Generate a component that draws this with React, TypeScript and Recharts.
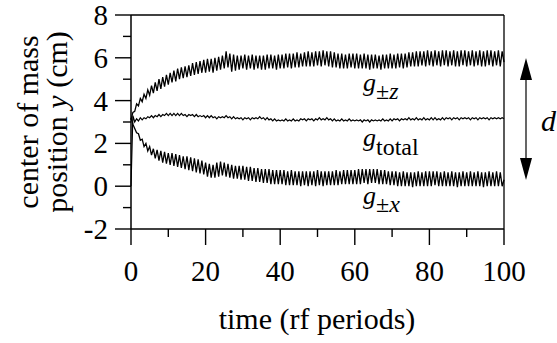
import React from 'react';
import { LineChart, Line, XAxis, YAxis, ReferenceLine } from 'recharts';

const FONT = "'Liberation Serif', 'Times New Roman', serif";

// time samples (rf periods)
const time = [
  0, 0.5, 1, 1.5, 2, 2.5, 3, 3.5, 4, 4.5, 5, 5.5, 6, 6.5, 7, 7.5, 8, 8.5, 9, 9.5,
  10, 10.5, 11, 11.5, 12, 12.5, 13, 13.5, 14, 14.5, 15, 15.5, 16, 16.5, 17, 17.5, 18, 18.5, 19, 19.5,
  20, 20.5, 21, 21.5, 22, 22.5, 23, 23.5, 24, 24.5, 25, 25.5, 26, 26.5, 27, 27.5, 28, 28.5, 29, 29.5,
  30, 30.5, 31, 31.5, 32, 32.5, 33, 33.5, 34, 34.5, 35, 35.5, 36, 36.5, 37, 37.5, 38, 38.5, 39, 39.5,
  40, 40.5, 41, 41.5, 42, 42.5, 43, 43.5, 44, 44.5, 45, 45.5, 46, 46.5, 47, 47.5, 48, 48.5, 49, 49.5,
  50, 50.5, 51, 51.5, 52, 52.5, 53, 53.5, 54, 54.5, 55, 55.5, 56, 56.5, 57, 57.5, 58, 58.5, 59, 59.5,
  60, 60.5, 61, 61.5, 62, 62.5, 63, 63.5, 64, 64.5, 65, 65.5, 66, 66.5, 67, 67.5, 68, 68.5, 69, 69.5,
  70, 70.5, 71, 71.5, 72, 72.5, 73, 73.5, 74, 74.5, 75, 75.5, 76, 76.5, 77, 77.5, 78, 78.5, 79, 79.5,
  80, 80.5, 81, 81.5, 82, 82.5, 83, 83.5, 84, 84.5, 85, 85.5, 86, 86.5, 87, 87.5, 88, 88.5, 89, 89.5,
  90, 90.5, 91, 91.5, 92, 92.5, 93, 93.5, 94, 94.5, 95, 95.5, 96, 96.5, 97, 97.5, 98, 98.5, 99, 99.5,
  100,
];

// g±z  (cm)
const gZ = [
  3.1, 3.45, 3.5, 3.85, 3.75, 4.1, 3.95, 4.3, 4.1, 4.5, 4.25, 4.7, 4.35, 4.85, 4.45, 5.0, 4.55, 5.1, 4.65, 5.2,
  4.75, 5.3, 4.85, 5.4, 4.9, 5.5, 5.0, 5.55, 5.05, 5.6, 5.1, 5.65, 5.15, 5.75, 5.2, 5.8, 5.25, 5.85, 5.3, 5.9,
  5.3, 5.95, 5.35, 5.95, 5.3, 6.0, 5.4, 6.05, 5.45, 6.1, 5.5, 6.3, 5.55, 6.2, 5.35, 6.15, 5.4, 6.1, 5.45, 6.1,
  5.5, 6.15, 5.45, 6.1, 5.5, 6.15, 5.45, 6.1, 5.5, 6.1, 5.45, 6.1, 5.45, 6.15, 5.5, 6.15, 5.5, 6.1, 5.45, 6.15,
  5.5, 6.15, 5.5, 6.2, 5.55, 6.2, 5.5, 6.2, 5.55, 6.25, 5.55, 6.2, 5.6, 6.25, 5.6, 6.3, 5.6, 6.25, 5.6, 6.3,
  5.65, 6.3, 5.6, 6.35, 5.65, 6.3, 5.6, 6.3, 5.55, 6.25, 5.55, 6.2, 5.5, 6.2, 5.5, 6.15, 5.5, 6.2, 5.55, 6.2,
  5.5, 6.2, 5.5, 6.15, 5.5, 6.2, 5.5, 6.15, 5.45, 6.15, 5.5, 6.15, 5.5, 6.1, 5.45, 6.15, 5.5, 6.15, 5.5, 6.2,
  5.5, 6.15, 5.5, 6.2, 5.55, 6.2, 5.5, 6.2, 5.55, 6.25, 5.6, 6.25, 5.6, 6.3, 5.6, 6.3, 5.65, 6.3, 5.6, 6.35,
  5.65, 6.3, 5.6, 6.35, 5.65, 6.3, 5.6, 6.35, 5.65, 6.35, 5.6, 6.3, 5.65, 6.35, 5.6, 6.3, 5.6, 6.35, 5.65, 6.35,
  5.6, 6.3, 5.65, 6.35, 5.6, 6.3, 5.65, 6.35, 5.6, 6.3, 5.6, 6.35, 5.65, 6.35, 5.6, 6.3, 5.65, 6.35, 5.6, 6.3,
  5.8,
];

// g_total (cm)
const gTotal = [
  0, 3.3, 3.0, 3.15, 3.05, 3.2, 3.1, 3.2, 3.15, 3.25, 3.2, 3.3, 3.2, 3.3, 3.25, 3.35, 3.25, 3.35, 3.3, 3.4,
  3.3, 3.4, 3.3, 3.4, 3.3, 3.4, 3.3, 3.4, 3.3, 3.35, 3.25, 3.35, 3.3, 3.35, 3.25, 3.35, 3.25, 3.3, 3.25, 3.3,
  3.2, 3.3, 3.2, 3.3, 3.2, 3.25, 3.15, 3.25, 3.2, 3.25, 3.2, 3.3, 3.2, 3.25, 3.15, 3.25, 3.15, 3.2, 3.15, 3.2,
  3.1, 3.2, 3.15, 3.2, 3.1, 3.2, 3.15, 3.2, 3.15, 3.25, 3.15, 3.2, 3.1, 3.2, 3.1, 3.15, 3.05, 3.15, 3.05, 3.1,
  3.05, 3.1, 3.05, 3.15, 3.05, 3.1, 3.05, 3.15, 3.05, 3.1, 3.05, 3.15, 3.1, 3.15, 3.05, 3.15, 3.1, 3.15, 3.05, 3.15,
  3.1, 3.2, 3.1, 3.15, 3.1, 3.2, 3.1, 3.15, 3.05, 3.15, 3.05, 3.1, 3.05, 3.15, 3.05, 3.1, 3.05, 3.15, 3.05, 3.1,
  3.05, 3.1, 3.05, 3.1, 3.0, 3.1, 3.05, 3.1, 3.0, 3.1, 3.05, 3.1, 3.05, 3.1, 3.05, 3.15, 3.05, 3.1, 3.05, 3.15,
  3.05, 3.15, 3.1, 3.15, 3.05, 3.15, 3.1, 3.15, 3.1, 3.2, 3.1, 3.15, 3.1, 3.2, 3.1, 3.15, 3.1, 3.2, 3.1, 3.15,
  3.1, 3.2, 3.1, 3.2, 3.1, 3.15, 3.1, 3.2, 3.1, 3.2, 3.15, 3.2, 3.1, 3.2, 3.15, 3.2, 3.1, 3.2, 3.15, 3.2,
  3.15, 3.2, 3.1, 3.2, 3.15, 3.2, 3.1, 3.2, 3.15, 3.2, 3.15, 3.2, 3.1, 3.2, 3.15, 3.2, 3.15, 3.2, 3.15, 3.2,
  3.15,
];

// g±x (cm)
const gX = [
  3.2, 2.9, 2.7, 2.5, 2.45, 2.15, 2.2, 1.85, 2.0, 1.65, 1.85, 1.45, 1.75, 1.3, 1.7, 1.2, 1.65, 1.1, 1.6, 1.05,
  1.55, 1.0, 1.55, 0.95, 1.5, 0.9, 1.45, 0.85, 1.4, 0.8, 1.4, 0.75, 1.35, 0.7, 1.3, 0.65, 1.25, 0.6, 1.2, 0.55,
  1.1, 0.45, 1.05, 0.4, 1.0, 0.4, 1.1, 0.45, 1.15, 0.5, 1.1, 0.45, 1.05, 0.4, 1.0, 0.35, 0.95, 0.35, 0.95, 0.3,
  0.95, 0.3, 0.9, 0.25, 0.9, 0.25, 0.85, 0.2, 0.85, 0.2, 0.8, 0.15, 0.8, 0.15, 0.8, 0.1, 0.75, 0.1, 0.75, 0.1,
  0.75, 0.1, 0.75, 0.05, 0.7, 0.05, 0.75, 0.05, 0.7, 0.05, 0.7, 0.0, 0.7, 0.05, 0.7, 0.0, 0.7, 0.05, 0.7, 0.0,
  0.75, 0.05, 0.7, 0.0, 0.7, 0.05, 0.7, 0.05, 0.7, 0.05, 0.75, 0.05, 0.7, 0.1, 0.75, 0.1, 0.75, 0.1, 0.75, 0.1,
  0.75, 0.1, 0.8, 0.1, 0.8, 0.15, 0.8, 0.1, 0.8, 0.15, 0.8, 0.15, 0.8, 0.1, 0.75, 0.1, 0.75, 0.1, 0.7, 0.05,
  0.7, 0.05, 0.7, 0.0, 0.65, 0.0, 0.7, 0.0, 0.65, 0.0, 0.65, -0.05, 0.65, 0.0, 0.7, 0.0, 0.65, 0.0, 0.7, 0.0,
  0.7, 0.0, 0.7, 0.05, 0.7, 0.0, 0.65, 0.0, 0.7, 0.0, 0.65, 0.0, 0.7, 0.0, 0.65, -0.05, 0.65, 0.0, 0.7, 0.0,
  0.65, 0.0, 0.7, 0.0, 0.65, 0.0, 0.7, 0.0, 0.65, -0.05, 0.65, 0.0, 0.7, 0.0, 0.65, 0.0, 0.7, 0.0, 0.65, 0.0,
  0.3,
];

const xTicks = [0, 10, 20, 30, 40, 50, 60, 70, 80, 90, 100];
const yTicks = [-2, -1, 0, 1, 2, 3, 4, 5, 6, 7, 8];

const data = time.map((t, i) => ({ t, gz: gZ[i], gt: gTotal[i], gx: gX[i] }));

const htmlText: React.CSSProperties = {
  fontFamily: FONT,
  color: '#000',
  margin: 0,
  padding: 0,
  whiteSpace: 'nowrap',
};

const YTick = (props: any) => {
  const { x, y, payload } = props;
  const major = payload.value % 2 === 0;
  return (
    <g>
      <line x1={x} x2={x - (major ? 16 : 8)} y1={y} y2={y} stroke="#000" strokeWidth={1.4} />
      {major && (
        <foreignObject x={x - 83} y={y - 15} width={60} height={30}>
          <div style={{ ...htmlText, fontSize: 29, lineHeight: '30px', textAlign: 'right' }}>
            {payload.value}
          </div>
        </foreignObject>
      )}
    </g>
  );
};

const XTick = (props: any) => {
  const { x, y, payload } = props;
  const major = payload.value % 20 === 0;
  return (
    <g>
      <line x1={x} x2={x} y1={y} y2={y + (major ? 16 : 8)} stroke="#000" strokeWidth={1.4} />
      {major && (
        <foreignObject x={x - 40} y={y + 27} width={80} height={30}>
          <div style={{ ...htmlText, fontSize: 29, lineHeight: '30px', textAlign: 'center' }}>
            {payload.value}
          </div>
        </foreignObject>
      )}
    </g>
  );
};

const abs = (left: number, top: number, extra: React.CSSProperties = {}): React.CSSProperties => ({
  ...htmlText,
  position: 'absolute',
  left,
  top,
  ...extra,
});

export default function App() {
  return (
    <div style={{ position: 'absolute', left: 0, top: 0, width: 557, height: 343, background: '#fff' }}>
      <LineChart
        width={557}
        height={343}
        data={data}
        margin={{ top: 15, right: 53, bottom: 84, left: 71 }}
      >
        <XAxis
          dataKey="t"
          type="number"
          domain={[0, 100]}
          ticks={xTicks}
          interval={0}
          tickSize={0}
          tickMargin={0}
          height={30}
          tick={<XTick />}
          axisLine={{ stroke: '#000', strokeWidth: 1.5 }}
          tickLine={false}
        />
        <YAxis
          type="number"
          domain={[-2, 8]}
          ticks={yTicks}
          interval={0}
          tickSize={0}
          tickMargin={0}
          width={60}
          tick={<YTick />}
          axisLine={{ stroke: '#000', strokeWidth: 1.5 }}
          tickLine={false}
        />
        <ReferenceLine y={8} stroke="#000" strokeWidth={1.3} />
        <ReferenceLine x={100} stroke="#000" strokeWidth={1.3} />
        <Line dataKey="gz" stroke="#000" strokeWidth={1.3} dot={false} isAnimationActive={false} />
        <Line dataKey="gt" stroke="#000" strokeWidth={1.2} dot={false} isAnimationActive={false} />
        <Line dataKey="gx" stroke="#000" strokeWidth={1.3} dot={false} isAnimationActive={false} />
      </LineChart>

      {/* axis titles */}
      <div
        style={abs(28, 122, {
          fontSize: 30,
          lineHeight: '30px',
          transform: 'translate(-50%, -50%) rotate(-90deg)',
        })}
      >
        center of mass
      </div>
      <div
        style={abs(57, 122, {
          fontSize: 30,
          lineHeight: '30px',
          transform: 'translate(-50%, -50%) rotate(-90deg)',
        })}
      >
        position <i>y</i> (cm)
      </div>
      <div style={abs(317, 304, { fontSize: 30, lineHeight: '30px', transform: 'translateX(-50%)' })}>
        time (rf periods)
      </div>

      {/* curve labels */}
      <div style={abs(363, 70, { fontSize: 26, lineHeight: '26px' })}>
        <i>g</i>
        <span style={{ fontSize: 24, verticalAlign: -8 }}>
          ±<i>z</i>
        </span>
      </div>
      <div style={abs(363, 125, { fontSize: 26, lineHeight: '26px' })}>
        <i>g</i>
        <span style={{ fontSize: 24, verticalAlign: -9 }}>total</span>
      </div>
      <div style={abs(363, 183, { fontSize: 26, lineHeight: '26px' })}>
        <i>g</i>
        <span style={{ fontSize: 24, verticalAlign: -8 }}>
          ±<i>x</i>
        </span>
      </div>

      {/* separation arrow */}
      <svg
        width={557}
        height={343}
        style={{ position: 'absolute', left: 0, top: 0, pointerEvents: 'none' }}
      >
        <line x1={526} x2={526} y1={70} y2={168} stroke="#000" strokeWidth={1.2} />
        <polygon points="526,58 520,80 532,80" fill="#000" />
        <polygon points="526,180 520,158 532,158" fill="#000" />
      </svg>
      <div style={abs(541, 106, { fontSize: 30, lineHeight: '30px', fontStyle: 'italic' })}>d</div>
    </div>
  );
}
